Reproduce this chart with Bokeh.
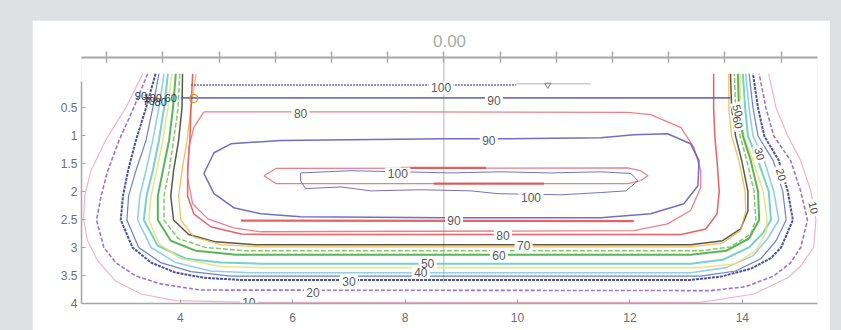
from bokeh.plotting import figure
from bokeh.models import Range1d, LinearAxis, FixedTicker
from bokeh.layouts import column
from bokeh.embed import file_html
from bokeh.resources import INLINE
from bokeh.core.properties import value

FONT = value("Liberation Sans")

# ---------------- data ----------------
x_ticks = [4, 6, 8, 10, 12, 14]
y_ticks = [0.5, 1, 1.5, 2, 2.5, 3, 3.5, 4]
y_tick_labels = ["0.5", "1", "1.5", "2", "2.5", "3", "3.5", "4"]
ruler_ticks = [1.69, 2.69, 3.69, 4.69, 5.69, 6.69, 7.69, 8.69, 9.69, 10.69, 11.69, 12.69, 13.69, 14.69, 15.69]
title_text = "0.00"

c10_x = [3.33, 3.03, 2.67, 2.41, 2.30, 2.28, 2.35, 2.53, 2.85, 3.30, 3.92, 5.25, 13.26, 14.21, 14.81, 15.04, 15.27, 15.31, 15.22, 15.04, 14.81, 14.60, 14.47]
c10_y = [-0.10, 0.51, 1.09, 1.63, 2.08, 2.51, 2.88, 3.24, 3.60, 3.83, 3.95, 3.98, 3.98, 3.83, 3.54, 3.33, 3.00, 2.51, 2.00, 1.45, 1.01, 0.51, -0.10]

c20_x = [3.42, 3.17, 2.91, 2.71, 2.59, 2.51, 2.64, 2.85, 3.21, 3.65, 4.36, 13.44, 14.06, 14.56, 14.86, 15.04, 15.16, 15.04, 14.86, 14.56, 14.42, 14.30]
c20_y = [-0.10, 0.51, 1.09, 1.63, 2.08, 2.51, 3.00, 3.27, 3.51, 3.65, 3.76, 3.77, 3.70, 3.51, 3.27, 3.00, 2.51, 2.00, 1.45, 1.01, 0.51, -0.10]

c30_x = [3.56, 3.39, 3.21, 3.07, 2.98, 2.94, 3.15, 3.48, 3.92, 4.42, 5.08, 13.08, 13.62, 14.15, 14.51, 14.69, 14.90, 14.81, 14.65, 14.39, 14.28, 14.19]
c30_y = [-0.10, 0.51, 1.09, 1.63, 2.08, 2.51, 3.00, 3.27, 3.45, 3.54, 3.58, 3.58, 3.52, 3.38, 3.19, 3.00, 2.51, 2.00, 1.45, 1.01, 0.51, -0.10]

c35_x = [3.62, 3.51, 3.39, 3.21, 3.08, 3.05, 3.26, 3.65, 4.19, 4.90, 13.26, 13.88, 14.33, 14.60, 14.78, 14.72, 14.55, 14.28, 14.19, 14.12]
c35_y = [-0.10, 0.51, 1.09, 1.63, 2.08, 2.51, 3.00, 3.27, 3.43, 3.51, 3.51, 3.42, 3.20, 2.88, 2.51, 2.00, 1.45, 1.01, 0.51, -0.10]

c40_x = [3.71, 3.62, 3.51, 3.39, 3.28, 3.24, 3.48, 3.92, 4.54, 5.25, 13.08, 13.71, 14.19, 14.45, 14.65, 14.56, 14.39, 14.19, 14.12, 14.06]
c40_y = [-0.10, 0.51, 1.09, 1.63, 2.08, 2.51, 3.00, 3.27, 3.42, 3.45, 3.45, 3.36, 3.15, 2.84, 2.51, 2.00, 1.45, 1.01, 0.51, -0.10]

c50_x = [3.78, 3.71, 3.62, 3.51, 3.40, 3.35, 3.60, 4.10, 4.72, 5.43, 13.08, 13.65, 14.12, 14.37, 14.51, 14.47, 14.28, 14.10, 14.05, 14.01]
c50_y = [-0.10, 0.51, 1.09, 1.63, 2.08, 2.51, 2.97, 3.20, 3.27, 3.29, 3.29, 3.22, 3.00, 2.74, 2.51, 2.00, 1.45, 1.01, 0.51, -0.10]

c55_x = [3.85, 3.78, 3.69, 3.58, 3.48, 3.44, 3.62, 4.01, 4.72, 5.43, 13.26, 13.88, 14.24, 14.42, 14.44, 14.37, 14.19, 14.03, 13.97, 13.96]
c55_y = [-0.10, 0.51, 1.09, 1.63, 2.08, 2.51, 2.93, 3.20, 3.34, 3.36, 3.36, 3.29, 3.06, 2.74, 2.51, 2.00, 1.45, 1.01, 0.51, -0.10]

c60_x = [3.92, 3.87, 3.80, 3.69, 3.60, 3.60, 3.83, 4.28, 4.99, 5.61, 13.08, 13.71, 14.12, 14.30, 14.28, 14.15, 14.01, 13.94, 13.92]
c60_y = [-0.10, 0.51, 1.09, 1.63, 2.08, 2.51, 2.88, 3.06, 3.13, 3.13, 3.13, 3.06, 2.84, 2.51, 2.00, 1.45, 1.01, 0.51, -0.10]

c65_x = [3.99, 3.96, 3.88, 3.80, 3.71, 3.71, 3.96, 4.45, 5.17, 13.26, 13.79, 14.15, 14.24, 14.21, 14.08, 13.96, 13.88, 13.86]
c65_y = [-0.10, 0.51, 1.09, 1.63, 2.08, 2.51, 2.84, 3.00, 3.06, 3.06, 2.99, 2.76, 2.51, 2.00, 1.45, 1.01, 0.51, -0.10]

c70_x = [4.04, 4.03, 3.97, 3.88, 3.83, 3.88, 4.15, 4.63, 5.34, 13.08, 13.65, 13.97, 14.10, 14.10, 13.99, 13.88, 13.81, 13.79]
c70_y = [-0.10, 0.51, 1.09, 1.63, 2.08, 2.51, 2.77, 2.90, 2.95, 2.95, 2.88, 2.67, 2.35, 2.00, 1.45, 1.01, 0.51, -0.10]

c75_x = [4.28, 4.19, 4.12, 4.03, 3.97, 4.01, 4.24, 4.72, 5.43, 13.08, 13.65, 13.97, 14.06, 14.05, 13.94, 13.81, 13.76, 13.76]
c75_y = [-0.10, 0.51, 1.09, 1.63, 2.08, 2.51, 2.81, 2.95, 2.99, 2.99, 2.92, 2.70, 2.35, 2.00, 1.45, 1.01, 0.51, -0.10]

c80_x = [4.22, 4.19, 4.17, 4.13, 4.13, 4.24, 4.54, 5.08, 5.61, 12.91, 13.35, 13.55, 13.59, 13.55, 13.51, 13.49, 13.49]
c80_y = [-0.10, 0.51, 1.09, 1.63, 2.08, 2.40, 2.63, 2.76, 2.77, 2.77, 2.67, 2.40, 2.00, 1.45, 1.01, 0.51, -0.10]

c80loop_x = [4.42, 7.92, 11.96, 12.37, 12.91, 13.14, 13.26, 13.26, 13.08, 12.67, 12.07, 5.43, 4.95, 4.49, 4.22, 4.13, 4.15, 4.24, 4.42]
c80loop_y = [0.58, 0.58, 0.59, 0.63, 0.86, 1.22, 1.63, 1.93, 2.34, 2.58, 2.70, 2.72, 2.65, 2.49, 2.22, 1.76, 1.22, 0.86, 0.58]

c90top_x = [4.01, 13.79]
c90top_y = [0.33, 0.33]

c100top_x = [4.19, 9.97]
c100top_y = [0.10, 0.10]

surface_x = [9.97, 11.30]
surface_y = [0.08, 0.08]
surface_mark_x = [10.54]
surface_mark_y = [0.10]

c90loop_x = [5.79, 4.90, 4.60, 4.42, 4.60, 4.95, 5.43, 6.14, 8.69, 11.48, 12.37, 12.96, 13.21, 13.23, 13.08, 12.67, 12.07, 11.48, 9.70, 8.69, 5.79]
c90loop_y = [1.09, 1.15, 1.31, 1.68, 2.04, 2.29, 2.40, 2.45, 2.47, 2.47, 2.40, 2.22, 1.90, 1.45, 1.15, 0.97, 0.99, 1.04, 1.06, 1.06, 1.09]

c90red_x = [5.08, 12.07]
c90red_y = [2.52, 2.53]

c100loop_x = [5.49, 5.70, 11.96, 12.19, 12.32, 12.19, 11.96, 5.70, 5.49]
c100loop_y = [1.72, 1.59, 1.58, 1.63, 1.72, 1.81, 1.86, 1.86, 1.72]

c100seg1_x = [7.92, 9.44]
c100seg1_y = [1.58, 1.58]
c100seg2_x = [8.51, 10.47]
c100seg2_y = [1.86, 1.86]

c100blue_x = [6.14, 7.03, 7.92, 8.81, 9.70, 10.59, 11.48, 12.02, 12.14, 11.93, 11.48, 10.77, 9.65, 9.17, 8.28, 7.39, 6.86, 6.23, 6.14, 6.14]
c100blue_y = [1.67, 1.63, 1.65, 1.67, 1.65, 1.67, 1.65, 1.68, 1.81, 1.99, 2.02, 2.06, 2.04, 1.99, 1.97, 1.99, 1.92, 1.95, 1.81, 1.67]

center_x = [8.69, 8.69]
center_y = [-0.39, 3.63]

lab_text = ["100", "90", "80", "90", "100", "100", "90", "80", "70", "60", "50", "40", "30", "20", "10"]
lab_x = [8.64, 9.58, 6.14, 9.49, 7.87, 10.24, 8.87, 9.74, 10.11, 9.67, 8.40, 8.28, 7.00, 6.36, 5.22]
lab_y = [0.15, 0.38, 0.61, 1.09, 1.68, 2.11, 2.52, 2.79, 2.97, 3.15, 3.29, 3.45, 3.60, 3.81, 3.99]

rot_text = ["50", "60", "30", "20", "10"]
rot_x = [13.92, 13.92, 14.31, 14.69, 15.27]
rot_y = [0.56, 0.77, 1.33, 1.70, 2.29]

clu_text = ["90", "100", "80", "70", "60"]
clu_x = [3.30, 3.51, 3.65, 3.44, 3.83]
clu_y = [0.29, 0.33, 0.40, 0.38, 0.34]

# ---------------- figure ----------------
p = figure(width=798, height=310, output_backend="svg", toolbar_location=None,
           x_range=Range1d(2.242, 15.338), y_range=Range1d(4.0, -0.39),
           min_border_left=49, min_border_right=13, min_border_top=37, min_border_bottom=27,
           background_fill_color="white", border_fill_color="white",
           outline_line_color=None)
p.margin = (20, 11, 0, 32)
p.grid.visible = False

p.title.text = title_text
p.title.align = "center"
p.title.text_font = "Liberation Sans"
p.title.text_font_size = "17px"
p.title.text_font_style = "normal"
p.title.text_color = "#aaaaaa"
p.title.standoff = 9

AX = "#a6a6a6"
xa = p.xaxis[0]
xa.ticker = FixedTicker(ticks=x_ticks)
ya = p.yaxis[0]
ya.ticker = FixedTicker(ticks=y_ticks)
ya.major_label_overrides = {t: s for t, s in zip(y_ticks, y_tick_labels)}
ya.bounds = (0.03, 4.0)
for ax in (xa, ya):
    ax.axis_line_color = AX
    ax.axis_line_width = 1.5
    ax.major_tick_line_color = AX
    ax.major_tick_in = 4
    ax.major_tick_out = 0
    ax.minor_tick_line_color = None
    ax.major_label_text_font = "Liberation Sans"
    ax.major_label_text_font_size = "12px"
    ax.major_label_text_color = "#6e6e6e"
xa.major_label_standoff = 9
ya.major_label_standoff = 4

ruler = LinearAxis(ticker=FixedTicker(ticks=ruler_ticks),
                   major_label_overrides={t: "" for t in ruler_ticks})
ruler.axis_line_color = "#a8a8a8"
ruler.axis_line_width = 2
ruler.major_tick_line_color = "#a8a8a8"
ruler.major_tick_line_width = 1.5
ruler.major_tick_in = 5
ruler.major_tick_out = 6
ruler.minor_tick_line_color = None
ruler.major_label_text_font_size = "1px"
ruler.major_label_standoff = 6
p.add_layout(ruler, "above")

p.line(center_x, center_y, line_color="#b5b5b5", line_width=1)

styles = [
    (c10_x, c10_y, "#f0a6c6", 1.2, "solid"),
    (c20_x, c20_y, "#8c5cc8", 1.6, "4 2"),
    (c30_x, c30_y, "#2e3592", 2.0, "3 1"),
    (c35_x, c35_y, "#4d6bc9", 1.2, "solid"),
    (c40_x, c40_y, "#80c4ec", 1.6, "solid"),
    (c50_x, c50_y, "#5ec9bf", 2.0, "solid"),
    (c55_x, c55_y, "#eadf7a", 1.6, "solid"),
    (c60_x, c60_y, "#3ca83c", 2.0, "solid"),
    (c65_x, c65_y, "#72c050", 1.5, "5 2"),
    (c70_x, c70_y, "#3c3c2c", 1.5, "solid"),
    (c75_x, c75_y, "#f2b445", 1.3, "solid"),
    (c80_x, c80_y, "#e2474a", 1.5, "solid"),
    (c80loop_x, c80loop_y, "#e86a78", 1.3, "solid"),
    (c90top_x, c90top_y, "#5a58b8", 1.6, "solid"),
    (c100top_x, c100top_y, "#4a56b0", 1.4, "2 1"),
    (surface_x, surface_y, "#909090", 0.8, "solid"),
    (c90loop_x, c90loop_y, "#5656b8", 1.5, "solid"),
    (c90red_x, c90red_y, "#e04848", 2.2, "solid"),
    (c100loop_x, c100loop_y, "#e06a78", 1.2, "solid"),
    (c100seg1_x, c100seg1_y, "#e05050", 2.2, "solid"),
    (c100seg2_x, c100seg2_y, "#e05050", 2.2, "solid"),
    (c100blue_x, c100blue_y, "#5a5ab8", 1.0, "solid"),
]
for xs, ys, col, w, dash in styles:
    p.line(xs, ys, line_color=col, line_width=w, line_dash=dash, line_alpha=0.85)

p.scatter(surface_mark_x, surface_mark_y, marker="inverted_triangle", size=6,
          line_color="#808080", fill_color=None)
p.scatter([4.24], [0.34], marker="circle", size=8, line_color="#e09030",
          fill_color=None, line_width=1.3)

# white gaps under the contour labels (as clabel does)
lab_w = [7 * len(t) + 4 for t in lab_text]
p.rect(lab_x, lab_y, width=lab_w, height=12, width_units="screen", height_units="screen",
       fill_color="white", line_color=None)
rot_w = [7 * len(t) + 3 for t in rot_text]
p.rect(rot_x, rot_y, width=rot_w, height=11, width_units="screen", height_units="screen",
       angle=-1.31, fill_color="white", line_color=None)

p.text(lab_x, lab_y, text=lab_text, text_font=FONT, text_font_size="12px",
       text_color="#5a5a5a", text_align="center", text_baseline="middle")
p.text(rot_x, rot_y, text=rot_text, text_font=FONT, text_font_size="11px",
       text_color="#4a4a4a", text_align="center", text_baseline="middle",
       angle=-1.31)
p.text(clu_x, clu_y, text=clu_text, text_font=FONT, text_font_size="11px",
       text_color="#303040", text_align="center", text_baseline="middle")

root = column(p, styles={"background-color": "#dfe0e2"})
open("out.html", "w").write(file_html(root, INLINE))
